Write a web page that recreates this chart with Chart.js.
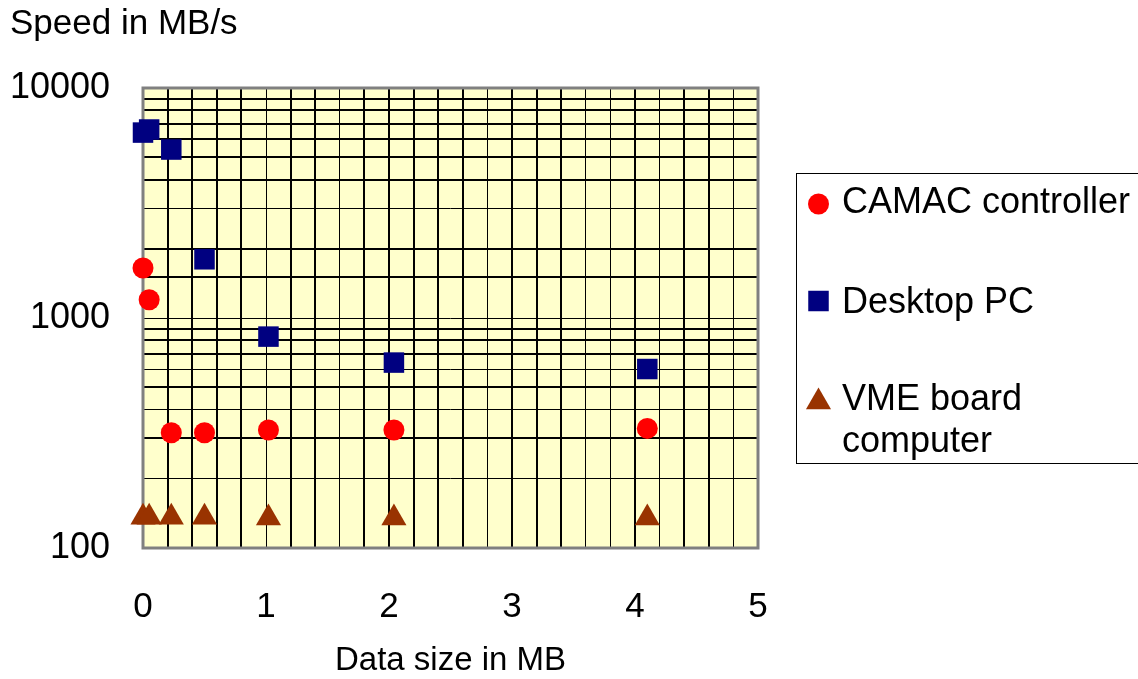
<!DOCTYPE html>
<html>
<head>
<meta charset="utf-8">
<script src="https://cdn.jsdelivr.net/npm/chart.js@4/dist/chart.umd.min.js"></script>
<style>
  html, body { margin: 0; padding: 0; background: #ffffff; }
  #wrap { width: 1138px; height: 679px; position: relative; }
</style>
</head>
<body>
<div id="wrap"><canvas id="c" width="1138" height="679"></canvas></div>
<script>
// Transfer speed (MB/s) against data size (MB), log scale on the speed axis
const seriesNames = ['CAMAC controller', 'Desktop PC', 'VME board computer'];
const legendLines = [['CAMAC controller'], ['Desktop PC'], ['VME board', 'computer']];

const dataSizeMB = [0.0, 0.05, 0.23, 0.5, 1.02, 2.04, 4.1];
const camacSpeed   = [1650, 1200, 317, 317, 326, 326, 331];
const desktopSpeed = [6400, 6600, 5400, 1800, 830, 640, 600];
const vmeSpeed     = [136, 136, 136, 136, 135, 135, 135];

const xTickValues = [0, 1, 2, 3, 4, 5];
const yTickValues = [100, 1000, 10000];

const FONT = '"Liberation Sans", Arial, Helvetica, sans-serif';

function pairs(xs, ys) { return xs.map((x, i) => ({ x: x, y: ys[i] })); }

// grid lines that come out a little lighter
const thinX = new Set([10, 16, 28, 36, 38, 42, 48]);
const thinY = new Set([3000, 1000, 600, 400, 200]);

const plotBackground = {
  id: 'plotBackground',
  beforeDraw(chart) {
    const { ctx, chartArea: a } = chart;
    ctx.save();
    ctx.fillStyle = '#FFFFCC';
    ctx.fillRect(a.left, a.top, a.right - a.left, a.bottom - a.top);
    ctx.restore();
  },
  beforeDatasetsDraw(chart) {
    const { ctx, chartArea: a } = chart;
    ctx.save();
    ctx.strokeStyle = '#808080';
    ctx.lineWidth = 3;
    ctx.strokeRect(a.left, a.top, a.right - a.left, a.bottom - a.top);
    ctx.restore();
  }
};

// y axis caption at the top left and the boxed legend on the right
const sideText = {
  id: 'sideText',
  afterDraw(chart) {
    const ctx = chart.ctx;
    ctx.save();
    ctx.fillStyle = '#000000';
    ctx.textAlign = 'left';
    ctx.textBaseline = 'alphabetic';
    ctx.font = '35px ' + FONT;
    ctx.fillText('Speed in MB/s', 10, 34);

    // legend frame
    ctx.strokeStyle = '#000000';
    ctx.lineWidth = 1;
    ctx.strokeRect(796.5, 173.5, 360, 290);

    const markerX = 818.5;
    const markerY = [204, 301, 402];
    const baselines = [[213], [313], [410, 452]];
    chart.data.datasets.forEach((ds, i) => {
      ctx.fillStyle = ds.backgroundColor;
      ctx.strokeStyle = ds.borderColor;
      Chart.helpers.drawPoint(ctx, {
        pointStyle: ds.pointStyle,
        radius: ds.pointRadius,
        rotation: 0,
        borderWidth: 0
      }, markerX, markerY[i]);
      ctx.fillStyle = '#000000';
      ctx.font = '36px ' + FONT;
      legendLines[i].forEach((line, j) => ctx.fillText(line, 842, baselines[i][j]));
    });
    ctx.restore();
  }
};

new Chart(document.getElementById('c'), {
  type: 'scatter',
  data: {
    datasets: [
      {
        label: seriesNames[0],
        data: pairs(dataSizeMB, camacSpeed),
        pointStyle: 'circle',
        pointRadius: 10.5,
        backgroundColor: '#FF0000',
        borderColor: '#FF0000',
        borderWidth: 0,
        clip: false
      },
      {
        label: seriesNames[1],
        data: pairs(dataSizeMB, desktopSpeed),
        pointStyle: 'rect',
        pointRadius: 14.5,
        backgroundColor: '#000080',
        borderColor: '#000080',
        borderWidth: 0,
        clip: false
      },
      {
        label: seriesNames[2],
        data: pairs(dataSizeMB, vmeSpeed),
        pointStyle: 'triangle',
        pointRadius: 14.5,
        backgroundColor: '#993300',
        borderColor: '#993300',
        borderWidth: 0,
        clip: false
      }
    ]
  },
  options: {
    responsive: false,
    animation: false,
    devicePixelRatio: 1,
    layout: { padding: { top: 88, right: 380, left: 0, bottom: 0 } },
    plugins: {
      legend: { display: false },
      tooltip: { enabled: false },
      title: { display: false }
    },
    elements: { point: { hoverRadius: 0 } },
    scales: {
      x: {
        type: 'linear',
        min: 0,
        max: 5,
        afterFit(scale) { scale.height = 131; },
        ticks: {
          stepSize: 0.2,
          autoSkip: false,
          maxRotation: 0,
          padding: 38,
          color: '#000000',
          font: { family: FONT, size: 35 },
          callback(v) {
            const r = Math.round(v);
            return (Math.abs(v - r) < 1e-6 && xTickValues.includes(r)) ? String(r) : '';
          }
        },
        grid: {
          drawTicks: false,
          color: '#000000',
          lineWidth(ctx) {
            const k = Math.round(ctx.tick.value * 10);
            return thinX.has(k) ? 1 : 2;
          }
        },
        border: { display: false },
        title: {
          display: true,
          text: 'Data size in MB',
          color: '#000000',
          font: { family: FONT, size: 33, lineHeight: 1 },
          padding: { top: 0, bottom: 2 }
        }
      },
      y: {
        type: 'logarithmic',
        min: 100,
        max: 10000,
        afterFit(scale) { scale.width = 143; },
        ticks: {
          autoSkip: false,
          padding: 33,
          color: '#000000',
          font: { family: FONT, size: 36 },
          callback(v) {
            return yTickValues.includes(Math.round(v)) ? String(Math.round(v)) : '';
          }
        },
        grid: {
          drawTicks: false,
          color: '#000000',
          lineWidth(ctx) {
            return thinY.has(Math.round(ctx.tick.value)) ? 1 : 2;
          }
        },
        border: { display: false }
      }
    }
  },
  plugins: [plotBackground, sideText]
});
</script>
</body>
</html>
